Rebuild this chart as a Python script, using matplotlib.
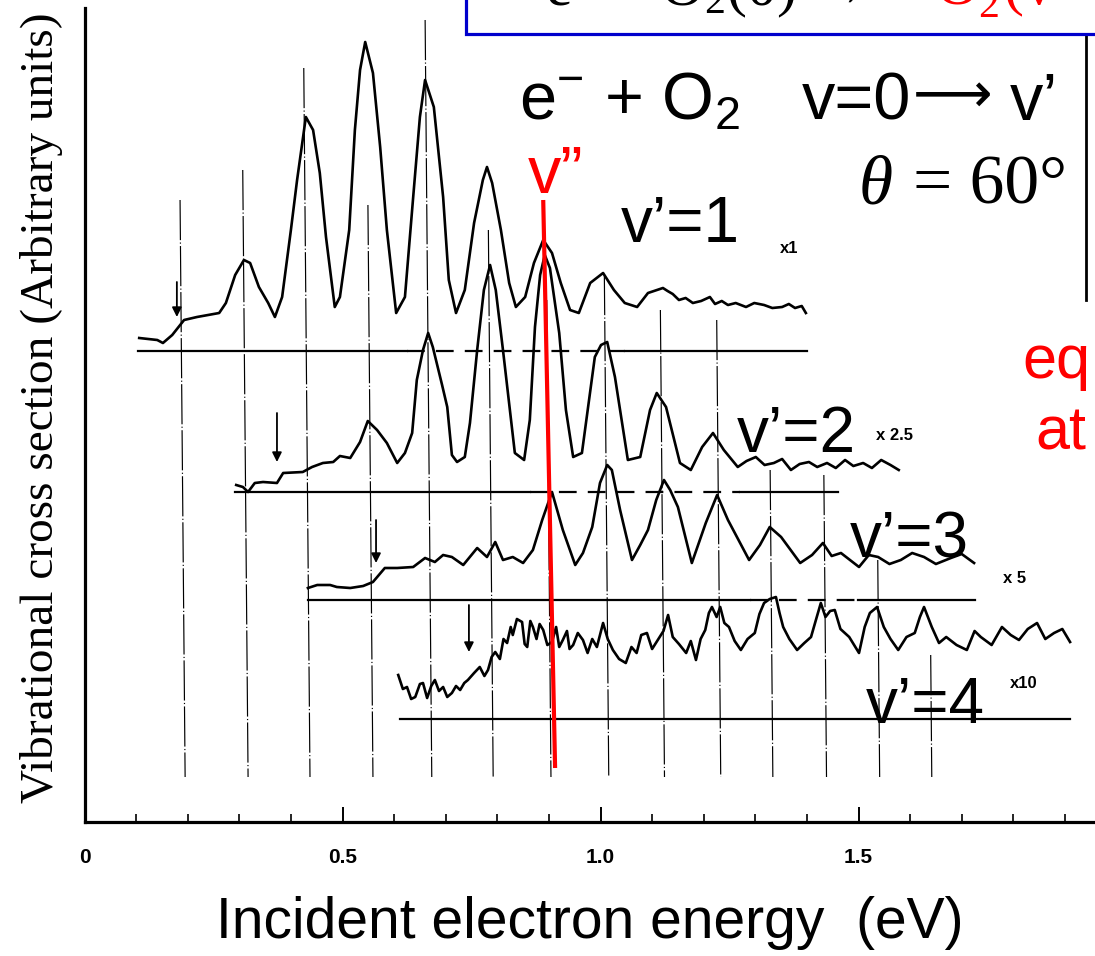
import matplotlib
matplotlib.use("Agg")
import matplotlib.pyplot as plt
from matplotlib.patches import Rectangle
from matplotlib.ticker import MultipleLocator, FixedLocator
from matplotlib import font_manager as fm

# ---------------- data (energy in eV, intensity in arbitrary units above each baseline) -------------
v1 = [(0.106,0.13),(0.141,0.11),(0.152,0.08),(0.170,0.16),(0.193,0.31),(0.218,0.34),(0.261,0.38),
      (0.274,0.48),(0.292,0.76),(0.309,0.91),(0.321,0.88),(0.338,0.64),(0.356,0.48),(0.369,0.34),
      (0.383,0.54),(0.400,1.21),(0.412,1.71),(0.429,2.34),(0.443,2.21),(0.456,1.78),(0.468,1.14),
      (0.485,0.44),(0.495,0.54),(0.513,1.21),(0.524,2.21),(0.534,2.81),(0.544,3.09),(0.559,2.78),
      (0.573,2.04),(0.586,1.21),(0.604,0.38),(0.621,0.54),(0.637,1.54),(0.650,2.34),(0.660,2.71),
      (0.677,2.44),(0.695,1.54),(0.706,0.71),(0.720,0.38),(0.737,0.61),(0.755,1.28),(0.772,1.71),
      (0.780,1.84),(0.790,1.68),(0.807,1.21),(0.823,0.68),(0.836,0.44),(0.854,0.54),(0.871,0.88),
      (0.889,1.11),(0.906,0.98),(0.923,0.68),(0.941,0.41),(0.958,0.38),(0.980,0.68),(1.005,0.78),
      (1.026,0.61),(1.047,0.48),(1.071,0.44),(1.092,0.58),(1.121,0.63),(1.130,0.60),(1.140,0.57),
      (1.152,0.51),(1.165,0.53),(1.179,0.48),(1.195,0.50),(1.212,0.54),(1.222,0.47),(1.235,0.50),
      (1.247,0.46),(1.262,0.48),(1.282,0.44),(1.298,0.48),(1.317,0.46),(1.333,0.43),(1.352,0.44),
      (1.365,0.47),(1.377,0.43),(1.390,0.45),(1.398,0.38)]
v2 = [(0.294,0.07),(0.307,0.05),(0.317,0.00),(0.330,0.09),(0.346,0.10),(0.373,0.09),(0.385,0.19),
      (0.423,0.20),(0.441,0.25),(0.462,0.29),(0.482,0.30),(0.495,0.36),(0.515,0.34),(0.534,0.50),
      (0.549,0.71),(0.567,0.62),(0.586,0.49),(0.606,0.29),(0.621,0.39),(0.635,0.59),(0.644,1.12),
      (0.656,1.42),(0.666,1.59),(0.675,1.45),(0.693,1.07),(0.703,0.85),(0.712,0.37),(0.722,0.30),
      (0.737,0.35),(0.747,0.69),(0.761,1.42),(0.774,2.02),(0.786,2.27),(0.797,2.02),(0.811,1.42),
      (0.834,0.39),(0.852,0.32),(0.863,0.72),(0.873,1.65),(0.883,2.17),(0.892,2.37),(0.902,2.24),
      (0.920,1.59),(0.933,0.82),(0.947,0.35),(0.964,0.39),(0.989,1.35),(1.001,1.47),(1.013,1.50),
      (1.028,1.15),(1.053,0.32),(1.077,0.35),(1.096,0.82),(1.109,0.99),(1.127,0.85),(1.154,0.29),
      (1.175,0.22),(1.197,0.45),(1.218,0.59),(1.239,0.42),(1.266,0.25),(1.283,0.31),(1.301,0.35),
      (1.318,0.27),(1.336,0.29),(1.352,0.33),(1.369,0.22),(1.386,0.28),(1.404,0.30),(1.420,0.25),
      (1.439,0.29),(1.456,0.24),(1.474,0.32),(1.490,0.26),(1.509,0.29),(1.526,0.24),(1.544,0.32),
      (1.562,0.27),(1.578,0.22)]
v3 = [(0.433,0.12),(0.451,0.15),(0.476,0.15),(0.489,0.13),(0.515,0.12),(0.540,0.14),(0.559,0.18),
      (0.582,0.32),(0.606,0.32),(0.637,0.33),(0.660,0.42),(0.679,0.38),(0.695,0.45),(0.712,0.43),
      (0.734,0.35),(0.761,0.52),(0.780,0.43),(0.796,0.58),(0.811,0.40),(0.830,0.43),(0.850,0.37),
      (0.869,0.50),(0.887,0.80),(0.906,1.08),(0.927,0.70),(0.951,0.35),(0.966,0.47),(0.984,0.73),
      (0.999,1.17),(1.013,1.35),(1.022,1.30),(1.038,0.90),(1.061,0.40),(1.077,0.55),(1.092,0.70),
      (1.108,1.00),(1.123,1.20),(1.135,1.10),(1.150,0.93),(1.177,0.37),(1.204,0.77),(1.226,1.05),
      (1.247,0.80),(1.288,0.40),(1.309,0.55),(1.328,0.73),(1.350,0.63),(1.387,0.37),(1.410,0.45),
      (1.431,0.57),(1.448,0.44),(1.466,0.47),(1.501,0.33),(1.520,0.45),(1.538,0.43),(1.560,0.36),
      (1.582,0.40),(1.604,0.47),(1.627,0.43),(1.650,0.36),(1.679,0.42),(1.700,0.46),(1.724,0.37)]
v4 = [(0.608,0.44),(0.617,0.30),(0.625,0.32),(0.633,0.20),(0.641,0.22),(0.650,0.35),(0.656,0.36),
      (0.664,0.21),(0.672,0.33),(0.679,0.39),(0.687,0.28),(0.695,0.32),(0.703,0.22),(0.712,0.26),
      (0.720,0.33),(0.728,0.29),(0.736,0.36),(0.743,0.39),(0.755,0.46),(0.766,0.52),(0.775,0.43),
      (0.782,0.49),(0.789,0.62),(0.796,0.67),(0.805,0.60),(0.812,0.80),(0.819,0.76),(0.826,0.92),
      (0.830,0.84),(0.838,1.00),(0.848,0.97),(0.853,0.75),(0.858,0.72),(0.864,0.98),(0.869,0.92),
      (0.876,0.80),(0.882,0.95),(0.889,0.89),(0.897,0.74),(0.906,0.77),(0.914,0.92),(0.920,0.72),
      (0.927,0.79),(0.935,0.88),(0.940,0.70),(0.947,0.74),(0.956,0.86),(0.966,0.79),(0.975,0.66),
      (0.984,0.80),(0.993,0.72),(1.005,0.96),(1.014,0.80),(1.024,0.69),(1.036,0.60),(1.049,0.56),
      (1.060,0.72),(1.070,0.66),(1.079,0.84),(1.090,0.86),(1.100,0.70),(1.111,0.79),(1.122,0.88),
      (1.131,1.04),(1.140,0.82),(1.152,0.75),(1.166,0.66),(1.175,0.78),(1.185,0.59),(1.194,0.80),
      (1.203,0.89),(1.210,1.06),(1.216,1.12),(1.225,1.02),(1.232,1.12),(1.240,0.96),(1.249,0.92),
      (1.260,0.78),(1.272,0.69),(1.285,0.80),(1.299,0.86),(1.308,1.05),(1.317,1.16),(1.328,1.20),
      (1.340,1.22),(1.347,1.06),(1.354,0.92),(1.366,0.80),(1.381,0.69),(1.395,0.76),(1.408,0.82),
      (1.418,1.00),(1.427,1.16),(1.436,1.02),(1.445,1.08),(1.454,1.09),(1.465,0.90),(1.482,0.82),
      (1.501,0.66),(1.512,0.92),(1.522,1.06),(1.536,1.12),(1.549,0.92),(1.562,0.80),(1.577,0.69),
      (1.593,0.82),(1.609,0.86),(1.619,1.02),(1.627,1.12),(1.642,0.92),(1.656,0.76),(1.670,0.82),
      (1.690,0.74),(1.710,0.69),(1.725,0.88),(1.737,0.82),(1.758,0.74),(1.778,0.92),(1.795,0.84),
      (1.811,0.79),(1.828,0.90),(1.846,0.96),(1.862,0.80),(1.879,0.86),(1.895,0.90),(1.910,0.77)]

series = [v1, v2, v3, v4]
labels = ["v\u2019=1", "v\u2019=2", "v\u2019=3", "v\u2019=4"]
scales = ["x1", "x 2.5", "x 5", "x10"]
baseline_offset = [4.71, 3.30, 2.22, 1.03]
baseline_span = [(0.104, 1.400), (0.292, 1.460), (0.433, 1.726), (0.611, 1.910)]
baseline_gap = [(0.625, 1.047), (0.863, 1.270), (1.290, 1.499), None]
threshold_E = [0.179, 0.373, 0.565, 0.745]
threshold_top = [0.69, 0.79, 0.80, 1.14]
threshold_tip = [0.34, 0.30, 0.37, 0.67]

res_E = [0.195, 0.317, 0.437, 0.559, 0.673, 0.792, 0.904, 1.016, 1.124, 1.233, 1.334, 1.438, 1.541, 1.642]
res_top = [6.22, 6.52, 7.54, 6.17, 8.02, 5.92, 5.22, 5.47, 5.12, 5.02, 3.52, 3.47, 2.62, 1.67]
res_bottom = 0.45

vpp_E = [0.889, 0.912]
vpp_y = [6.22, 0.54]

xticks_major = [0.0, 0.5, 1.0, 1.5]
xtick_labels = ["0", "0.5", "1.0", "1.5"]

# ---------------- fonts -------------
names = {f.name for f in fm.fontManager.ttflist}
NARROW = "Liberation Sans Narrow" if "Liberation Sans Narrow" in names else "Liberation Sans"
SANS = ["Liberation Sans", "DejaVu Sans"]
SERIF = ["Liberation Serif", "DejaVu Serif"]

W, H = 1095, 956
fig = plt.figure(figsize=(W / 100, H / 100), dpi=100)
fig.patch.set_facecolor("white")


def fx(px):
    return px / W


def fy(py):
    return 1 - py / H


PXE = 516.0  # pixels per eV
ax = fig.add_axes([fx(84.5), fy(822), 1 - fx(84.5), 822 / H])
ax.set_xlim(0, (W - 84.5) / PXE)
ax.set_ylim(0, 8.22)
ax.set_facecolor("none")

for s in ["top", "right"]:
    ax.spines[s].set_visible(False)
ax.spines["left"].set_linewidth(2.3)
ax.spines["bottom"].set_linewidth(2.3)
ax.spines["left"].set_bounds(0, 8.14)
ax.set_yticks([])
ax.xaxis.set_major_locator(FixedLocator(xticks_major))
ax.xaxis.set_minor_locator(MultipleLocator(0.1))
ax.set_xticklabels(xtick_labels)
ax.tick_params(axis="x", which="major", direction="in", length=11, width=1.4, pad=19,
               labelsize=15)
ax.tick_params(axis="x", which="minor", direction="in", length=6, width=1.2)
for lab in ax.get_xticklabels():
    lab.set_fontfamily(NARROW)
    lab.set_fontweight("bold")

tilt = 0.0017  # eV per y-unit slant of the scanned drawing
# vertical resonance marker lines
for e, top in zip(res_E, res_top):
    ax.plot([e - tilt * (top - res_bottom), e], [top, res_bottom], color="black", lw=0.85,
            ls=(0, (34, 2, 1, 2)), zorder=1)

# spectra, baselines, threshold arrows
for data, off, span, gap, te, tt, tp in zip(series, baseline_offset, baseline_span,
                                            baseline_gap, threshold_E, threshold_top,
                                            threshold_tip):
    xs = [p[0] for p in data]
    ys = [p[1] + off for p in data]
    ax.plot(xs, ys, color="black", lw=1.9, zorder=3, solid_joinstyle="round")
    if gap is None:
        ax.plot(span, [off, off], color="black", lw=1.6, zorder=2)
    else:
        ax.plot([span[0], gap[0]], [off, off], color="black", lw=1.6, zorder=2)
        ax.plot([gap[1], span[1]], [off, off], color="black", lw=1.6, zorder=2)
        ax.plot([gap[0], gap[1]], [off, off], color="black", lw=1.6, ls=(0, (8, 5)), zorder=2)
    ax.annotate("", xy=(te, off + tp), xytext=(te, off + tt),
                arrowprops=dict(arrowstyle="-|>", color="black", lw=1.3,
                                mutation_scale=14, shrinkA=0, shrinkB=0), zorder=3)

# red v'' line
ax.plot(vpp_E, vpp_y, color="#ff0000", lw=3.0, zorder=5, solid_capstyle="butt")

# right border fragment of the original frame
ax.plot([1.941, 1.941], [7.86, 5.22], color="black", lw=2.0, zorder=2, clip_on=False)

# ---------------- text -------------
fig.text(fx(42), fy(408), "Vibrational cross section (Arbitrary units)", rotation=90,
         ha="center", va="center", family=SERIF, fontsize=34)
fig.text(fx(590), fy(938), "Incident electron energy  (eV)", ha="center", va="baseline",
         family=[NARROW, "DejaVu Sans"], fontsize=41)

fig.text(fx(519), fy(120), r"e$\mathregular{^{-}}$ + O$\mathregular{_2}$", family=SANS,
         fontsize=48, ha="left", va="baseline")
fig.text(fx(802), fy(120), "v=0", family=SANS, fontsize=48, ha="left", va="baseline")
fig.text(fx(913), fy(112), "\u27f6", family=["DejaVu Sans"], fontsize=40, ha="left",
         va="baseline")
fig.text(fx(1010), fy(120), "v\u2019", family=SANS, fontsize=48, ha="left", va="baseline")
fig.text(fx(859), fy(203), "\u03b8", family=SERIF, style="italic", fontsize=50,
         ha="left", va="baseline")
fig.text(fx(913), fy(203), "= 60\u00b0", family=SERIF, fontsize=50, ha="left", va="baseline")
fig.text(fx(528), fy(193), "v\u201d", family=SANS, fontsize=48, color="#ff0000", ha="left",
         va="baseline")

label_pos = [(621, 242), (737, 452), (850, 557), (866, 723)]
scale_pos = [(780, 253), (876, 440), (1003, 583), (1010, 688)]
for lab, (px, py) in zip(labels, label_pos):
    fig.text(fx(px), fy(py), lab, family=SANS, fontsize=46, ha="left", va="baseline")
for lab, (px, py) in zip(scales, scale_pos):
    fig.text(fx(px), fy(py), lab, family=[NARROW, "DejaVu Sans"], fontweight="bold",
             fontsize=12, ha="left", va="baseline")

fig.text(fx(1022), fy(378), "eq", family=SANS, fontsize=44, color="#ff0000", ha="left",
         va="baseline")
fig.text(fx(1035), fy(450), "at", family=SANS, fontsize=44, color="#ff0000", ha="left",
         va="baseline")

# blue title box (cut by the top of the figure, as in the original slide)
box = Rectangle((fx(466), fy(34)), 1.0, 0.2, transform=fig.transFigure, facecolor="white",
                edgecolor="#0000cc", lw=2.3, zorder=10, clip_on=False)
fig.patches.append(box)
fig.text(fx(545), fy(5), r"e$\mathregular{^{-}}$ + O$\mathregular{_2}$(0) " + "\u2192",
         family=SERIF, fontsize=43, ha="left", va="baseline", zorder=11)
fig.text(fx(935), fy(5), r"O$\mathregular{_2^{-}}$(v", family=SERIF, fontsize=43,
         color="#ff0000", ha="left", va="baseline", zorder=11)

fig.savefig("out.png", dpi=100, facecolor="white")
